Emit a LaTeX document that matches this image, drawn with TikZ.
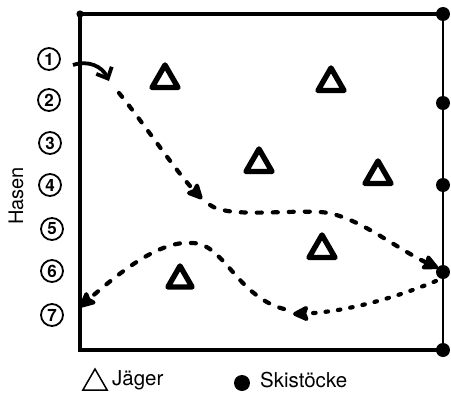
\documentclass[tikz,border=0pt]{standalone}
\usepackage{fontspec}
\setmainfont{TeX Gyre Heros}
\usetikzlibrary{arrows.meta,shapes.geometric}
\tikzset{
  frameline/.style={line width=3.4pt, line cap=round},
  stock/.style={circle, fill=black, inner sep=0pt, minimum size=14pt},
  jaeger/.style={regular polygon, regular polygon sides=3, draw, line width=5.4pt, line join=round, inner sep=0pt, minimum size=30pt},
  hase/.style={circle, draw, line width=1.8pt, inner sep=0pt, minimum size=22pt, font=\fontsize{17}{17}\selectfont\bfseries},
  track/.style={line width=4.2pt, line cap=round, dash pattern=on 5pt off 11pt},
  dotted track/.style={line width=4.2pt, line cap=round, dash pattern=on 2.5pt off 10pt},
  bigtip/.style={-{Stealth[length=19pt,width=18pt,inset=3pt,round]}},
  legend/.style={font=\fontsize{20.5}{20.5}\selectfont, anchor=west, inner sep=0pt}
}
\begin{document}
\begin{tikzpicture}[x=1pt,y=-1pt]
\useasboundingbox (0,0) rectangle (451,394);
% frame
\coordinate (tl) at (80,14);
\coordinate (tr) at (443,14);
\coordinate (br) at (443,350);
\coordinate (bl) at (80,350);
\draw[frameline] (tl) -- (tr);
\draw[frameline] (tl) -- (bl) -- (br);
\draw[line width=2.6pt] (tr) -- (br);
\fill (tl) circle (3.6pt);
% ski poles
\node[stock] (s1) at (443,14) {};
\node[stock] (s2) at (443,103) {};
\node[stock] (s3) at (443,185) {};
\node[stock] (s4) at (443,272) {};
\node[stock] (s5) at (443,350) {};
% hares
\node[hase] (h1) at (49,59) {1};
\node[hase] (h2) at (49,100) {2};
\node[hase] (h3) at (50,143) {3};
\node[hase] (h4) at (50,185) {4};
\node[hase] (h5) at (52,229) {5};
\node[hase] (h6) at (52,271) {6};
\node[hase] (h7) at (52,315) {7};
\node[rotate=90, font=\fontsize{20}{20}\selectfont, inner sep=0pt] (hasen) at (16,196) {Hasen};
% hunters
\node[jaeger] (j1) at (165,80) {};
\node[jaeger] (j2) at (331,83) {};
\node[jaeger] (j3) at (259,164) {};
\node[jaeger] (j4) at (378,176) {};
\node[jaeger] (j5) at (322,250) {};
\node[jaeger, minimum size=28pt] (j6) at (180,280) {};
% path of first run
\coordinate (a0) at (73,65);
\coordinate (a1) at (109,81);
\coordinate (a2) at (119,93);
\coordinate (a3) at (202,199);
\coordinate (a4) at (210,205);
\coordinate (a5) at (320,212);
\coordinate (a6) at (438,268);
\draw[line width=3.8pt, -{Straight Barb[length=9pt,width=17pt,line width=3.8pt]}] (a0) .. controls (88,60) and (102,66) .. (a1);
\draw[track, bigtip] (a2) .. controls (145,125) and (175,170) .. (a3);
\draw[track, bigtip] (a4) .. controls (228,218) and (285,210) .. (a5) .. controls (355,214) and (395,248) .. (a6);
% path of second run
\coordinate (b0) at (436,281);
\coordinate (b1) at (293,314);
\coordinate (b2) at (284,309);
\coordinate (b3) at (192,243);
\coordinate (b4) at (80,307);
\draw[dotted track, bigtip] (b0) .. controls (395,298) and (345,312) .. (b1);
\draw[track, bigtip] (b2) .. controls (250,300) and (232,268) .. (218,256) .. controls (210,248) and (202,243) .. (b3) .. controls (160,240) and (120,272) .. (b4);
% legend
\node[regular polygon, regular polygon sides=3, draw, line width=1.5pt, inner sep=0pt, minimum size=28pt] (lj) at (95,383) {};
\node[legend] (ljt) at (112,380) {Jäger};
\node[circle, fill=black, inner sep=0pt, minimum size=16pt] (ls) at (242,383) {};
\node[legend] (lst) at (260,380) {Skistöcke};
\end{tikzpicture}
\end{document}
